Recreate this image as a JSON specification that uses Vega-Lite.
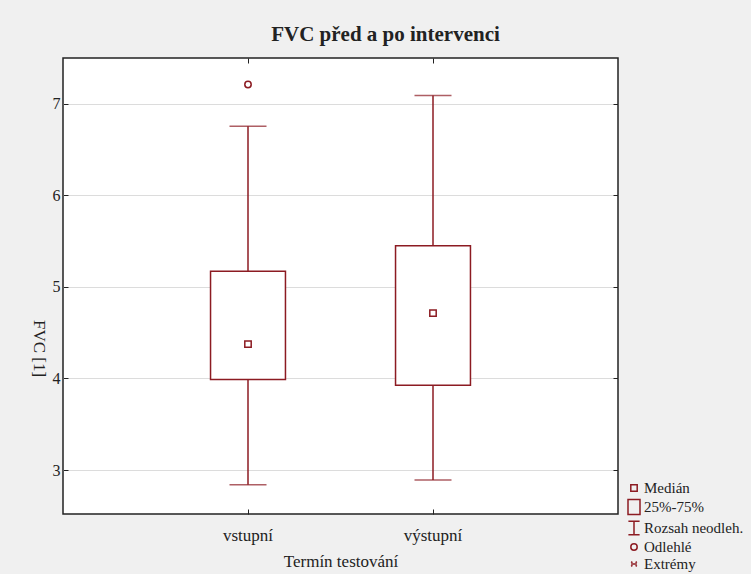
{
  "$schema": "https://vega.github.io/schema/vega-lite/v6.json",
  "width": 555,
  "height": 456,
  "autosize": {"type": "none"},
  "padding": {"left": 63, "top": 58, "right": 133, "bottom": 60},
  "background": "#f0f0f0",
  "config": {
    "font": "Liberation Serif",
    "view": {"fill": "white", "stroke": "#222222", "strokeWidth": 1.5},
    "axis": {
      "labelFont": "Liberation Serif",
      "titleFont": "Liberation Serif",
      "labelColor": "#222222",
      "titleColor": "#222222",
      "titleFontWeight": "normal",
      "tickColor": "#222222",
      "tickWidth": 1,
      "domain": false
    },
    "legend": {
      "labelFont": "Liberation Serif",
      "labelFontSize": 15,
      "labelColor": "#222222"
    }
  },
  "title": {
    "text": "FVC před a po intervenci",
    "font": "Liberation Serif",
    "fontSize": 21,
    "fontWeight": "bold",
    "color": "#222222",
    "anchor": "middle",
    "dx": 45,
    "offset": 13
  },
  "datasets": {
    "boxes": [
      {"termin": "vstupní", "dolni": 2.84, "q1": 3.99, "median": 4.375, "q3": 5.17, "horni": 6.755, "prvek": "Medián"},
      {"termin": "výstupní", "dolni": 2.89, "q1": 3.925, "median": 4.714, "q3": 5.45, "horni": 7.09, "prvek": "Medián"}
    ],
    "outliers": [
      {"termin": "vstupní", "fvc": 7.21, "prvek": "Odlehlé"}
    ]
  },
  "resolve": {"axis": {"x": "independent", "y": "independent"}},
  "layer": [
    {
      "data": {"name": "boxes"},
      "layer": [
        {
          "mark": {"type": "rule", "color": "#8c1b22", "strokeWidth": 1.5},
          "encoding": {
            "x": {
              "field": "termin",
              "type": "nominal",
              "sort": ["vstupní", "výstupní"],
              "scale": {"paddingInner": 0, "paddingOuter": 0.5},
              "axis": {
                "title": "Termín testování",
                "labelAngle": 0,
                "labelFontSize": 17,
                "titleFontSize": 17,
                "tickSize": -5,
                "labelPadding": 18,
                "titlePadding": 10,
                "grid": false
              }
            },
            "y": {
              "field": "dolni",
              "type": "quantitative",
              "scale": {"domain": [2.52, 7.5], "nice": false, "zero": false},
              "axis": {
                "title": "FVC [1]",
                "values": [3, 4, 5, 6, 7],
                "format": "d",
                "grid": true,
                "gridColor": "#dcdcdc",
                "gridWidth": 1,
                "tickSize": -5,
                "labelFontSize": 16,
                "labelPadding": 8,
                "titleFontSize": 17,
                "titleAngle": 90,
                "titleAlign": "center",
                "titleBaseline": "middle",
                "titleX": -25,
                "titleY": 290
              }
            },
            "y2": {"field": "horni"}
          }
        },
        {
          "mark": {"type": "bar", "width": {"band": 0.405}, "fill": "white", "stroke": "#8c1b22", "strokeWidth": 1.5},
          "encoding": {
            "x": {"field": "termin", "type": "nominal", "sort": ["vstupní", "výstupní"]},
            "y": {"field": "q1", "type": "quantitative"},
            "y2": {"field": "q3"}
          }
        },
        {
          "mark": {"type": "tick", "color": "#8c1b22", "size": 37, "thickness": 1.5},
          "encoding": {
            "x": {"field": "termin", "type": "nominal", "sort": ["vstupní", "výstupní"]},
            "y": {"field": "dolni", "type": "quantitative"}
          }
        },
        {
          "mark": {"type": "tick", "color": "#8c1b22", "size": 37, "thickness": 1.5},
          "encoding": {
            "x": {"field": "termin", "type": "nominal", "sort": ["vstupní", "výstupní"]},
            "y": {"field": "horni", "type": "quantitative"}
          }
        },
        {
          "data": {"name": "outliers"},
          "mark": {"type": "point", "filled": false, "size": 256, "color": "#8c1b22", "strokeWidth": 1.5, "opacity": 1},
          "encoding": {
            "x": {"field": "termin", "type": "nominal", "sort": ["vstupní", "výstupní"]},
            "y": {"field": "fvc", "type": "quantitative"},
            "shape": {"field": "prvek", "type": "nominal"}
          }
        }
      ]
    },
    {
      "data": {"name": "boxes"},
      "mark": {"type": "point", "filled": false, "size": 256, "color": "#8c1b22", "strokeWidth": 1.5, "opacity": 1},
      "encoding": {
        "x": {
          "field": "termin",
          "type": "nominal",
          "sort": ["vstupní", "výstupní"],
          "axis": {"orient": "top", "labels": false, "title": null, "grid": false, "tickSize": -5}
        },
        "y": {
          "field": "median",
          "type": "quantitative",
          "axis": {"orient": "right", "labels": false, "title": null, "grid": false, "tickSize": -5, "values": [3, 4, 5, 6, 7]}
        },
        "shape": {
          "field": "prvek",
          "type": "nominal",
          "scale": {
            "domain": ["Medián", "25%-75%", "Rozsah neodleh.", "Odlehlé", "Extrémy"],
            "range": [
              "M-0.4,-0.4H0.4V0.4H-0.4Z",
              "M-0.75,-0.95H0.75V0.95H-0.75Z",
              "M-0.7,-0.85H0.7M0,-0.85V0.85M-0.7,0.85H0.7",
              "M0.4,0A0.4,0.4 0 1,1 -0.4,0A0.4,0.4 0 1,1 0.4,0Z",
              "M-0.35,-0.3L-0.2,-0.15M0.35,-0.3L0.2,-0.15M-0.35,0.3L-0.2,0.15M0.35,0.3L0.2,0.15M-0.35,0H0.35"
            ]
          },
          "legend": {
            "title": null,
            "orient": "none",
            "legendX": 562,
            "legendY": 421,
            "symbolSize": 256,
            "symbolStrokeColor": "#8c1b22",
            "symbolFillColor": "transparent",
            "symbolStrokeWidth": 1.5,
            "rowPadding": 0,
            "labelOffset": 1
          }
        }
      }
    }
  ]
}
